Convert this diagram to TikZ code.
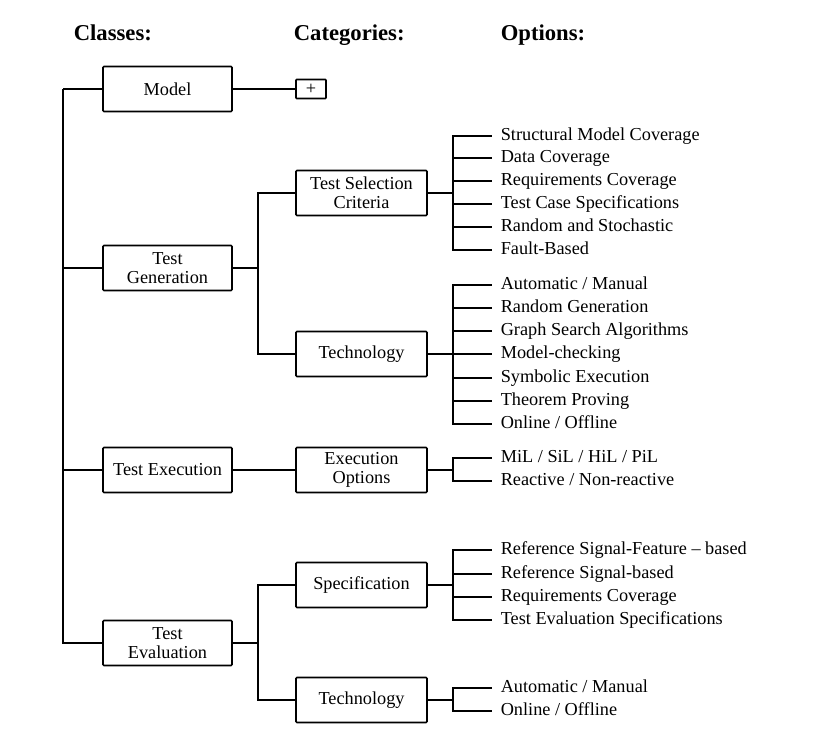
\documentclass[tikz,border=0pt]{standalone}
\usepackage{fontspec}
\setmainfont{Liberation Serif}
\begin{document}
\begin{tikzpicture}
	[x=0.75pt,y=-0.75pt,line width=1.2pt,
	every node/.style={font=\fontsize{13.7}{14.5}\selectfont},
	classbox/.style={draw,rounded corners=0.8pt,minimum width=96.75pt,
		minimum height=33.75pt,align=center,inner sep=1pt},
	catbox/.style={classbox,minimum width=98.25pt},
	plusbox/.style={draw,rounded corners=0.5pt,minimum width=22.5pt,
		minimum height=14.25pt,inner sep=0pt},
	option/.style={anchor=west,inner xsep=6pt,inner ysep=1pt,
		text height=0.7em,text depth=0.08em},
	header/.style={anchor=base west,inner sep=0pt,
		font=\fontsize{17}{20}\selectfont\bfseries}]
	\useasboundingbox (0,0) rectangle (837,753);
	\node[header] (hcla) at (73,40) {Classes:};
	\node[header] (hcat) at (293,40) {Categories:};
	\node[header] (hopt) at (500,40) {Options:};
	\node[classbox] (model) at (167.5,89) {Model};
	\node[classbox] (tgen) at (167.5,268) {Test\\Generation};
	\node[classbox] (texe) at (167.5,470) {Test Execution};
	\node[classbox] (teva) at (167.5,643) {Test\\Evaluation};
	\node[plusbox] (plus) at (311,89) {+};
	\node[catbox] (tsc) at (361.5,193) {Test Selection\\Criteria};
	\node[catbox] (tech) at (361.5,354) {Technology};
	\node[catbox] (exo) at (361.5,470) {Execution\\Options};
	\node[catbox] (spec) at (361.5,585) {Specification};
	\node[catbox] (etech) at (361.5,700) {Technology};
	\coordinate (root) at (63,89);
	\foreach \c in {model,tgen,texe,teva}
		\draw (root) |- (\c.west);
	\draw (model) -- (plus);
	\coordinate (tgenj) at (258,268);
	\draw (tgen) -- (tgenj);
	\draw (tgenj) |- (tsc.west);
	\draw (tgenj) |- (tech.west);
	\draw (texe) -- (exo);
	\coordinate (tevaj) at (258,643);
	\draw (teva) -- (tevaj);
	\draw (tevaj) |- (spec.west);
	\draw (tevaj) |- (etech.west);
	\foreach \y/\txt [count=\i] in {136/{Structural Model Coverage},
		158/{Data Coverage},181/{Requirements Coverage},
		204/{Test Case Specifications},227/{Random and Stochastic},
		250/{Fault-Based}}
		\node[option] (tsc-\i) at (492,\y) {\txt};
	\foreach \y/\txt [count=\i] in {285/{Automatic / Manual},
		308/{Random Generation},331/{Graph Search Algorithms},
		354/{Model-checking},378/{Symbolic Execution},
		401/{Theorem Proving},424/{Online / Offline}}
		\node[option] (tech-\i) at (492,\y) {\txt};
	\foreach \y/\txt [count=\i] in {458/{MiL / SiL / HiL / PiL},
		481/{Reactive / Non-reactive}}
		\node[option] (exo-\i) at (492,\y) {\txt};
	\foreach \y/\txt [count=\i] in {550/{Reference Signal-Feature -- based},
		574/{Reference Signal-based},597/{Requirements Coverage},
		620/{Test Evaluation Specifications}}
		\node[option] (spec-\i) at (492,\y) {\txt};
	\foreach \y/\txt [count=\i] in {688/{Automatic / Manual},
		711/{Online / Offline}}
		\node[option] (etech-\i) at (492,\y) {\txt};
	\coordinate (tscj) at (453,193);
	\coordinate (techj) at (453,354);
	\coordinate (exoj) at (453,470);
	\coordinate (specj) at (453,585);
	\coordinate (etechj) at (453,700);
	\draw (tsc) -- (tscj);
	\foreach \i in {1,...,6}
		\draw (tscj) |- (tsc-\i.west);
	\draw (tech) -- (techj);
	\foreach \i in {1,...,7}
		\draw (techj) |- (tech-\i.west);
	\draw (exo) -- (exoj);
	\foreach \i in {1,2}
		\draw (exoj) |- (exo-\i.west);
	\draw (spec) -- (specj);
	\foreach \i in {1,...,4}
		\draw (specj) |- (spec-\i.west);
	\draw (etech) -- (etechj);
	\foreach \i in {1,2}
		\draw (etechj) |- (etech-\i.west);
\end{tikzpicture}
\end{document}
